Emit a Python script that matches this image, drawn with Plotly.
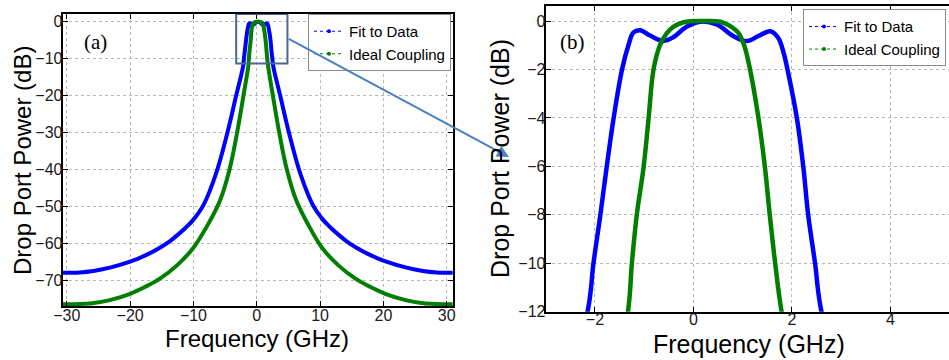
import plotly.graph_objects as go

# Drop-port transmission (dB) versus detuning (GHz)
freq_fit = [-31.0, -28.0, -25.8, -23.2, -20.0, -17.6, -15.3, -13.7, -12.4, -11.1,
            -10.0, -8.4, -6.5, -4.7, -3.25, -2.15, -2.03, -1.89, -1.76, -1.62,
            -1.45, -1.32, -1.22, -1.08, -0.88, -0.61, -0.41, -0.14, 0.14, 0.47,
            0.81, 1.08, 1.32, 1.56, 1.72, 1.83, 1.91, 2.10, 2.23, 2.33,
            2.47, 2.60, 3.7, 5.15, 6.95, 8.85, 10.45, 11.55, 12.85, 14.15,
            15.75, 18.05, 20.45, 23.65, 26.25, 28.45, 31.0]
db_fit = [-68.0, -67.9, -67.5, -66.6, -65.0, -63.3, -61.2, -59.4, -57.6, -55.6,
          -53.6, -49.6, -41.5, -30.5, -20.0, -12.0, -10.0, -8.0, -6.0, -4.0,
          -2.0, -1.0, -0.48, -0.38, -0.6, -0.82, -0.67, -0.24, -0.03, -0.14,
          -0.62, -0.83, -0.62, -0.42, -0.69, -1.3, -2.0, -4.0, -6.0, -8.0,
          -10.0, -12.0, -20.0, -30.5, -41.5, -49.6, -53.6, -55.6, -57.6, -59.4,
          -61.2, -63.3, -65.0, -66.6, -67.5, -67.9, -68.0]

freq_ideal = [-31.0, -26.3, -23.2, -20.0, -17.6, -15.3, -12.6, -10.0, -7.9, -5.8,
              -4.3, -3.1, -2.1, -1.33, -1.25, -1.15, -1.01, -0.91, -0.81, -0.68,
              -0.54, -0.41, -0.2, 0.2, 0.55, 0.74, 0.91, 1.03, 1.15, 1.32,
              1.45, 1.55, 1.66, 1.79, 2.55, 3.55, 4.75, 6.25, 8.3, 10.3,
              12.9, 15.6, 17.9, 20.3, 23.5, 26.6, 31.0]
db_ideal = [-76.5, -76.3, -75.4, -73.7, -71.8, -69.6, -66.0, -61.2, -55.5, -48.4,
            -40.0, -30.0, -20.0, -12.0, -10.0, -8.0, -6.0, -4.0, -2.0, -1.0,
            -0.5, -0.24, -0.05, 0.0, -0.03, -0.2, -0.48, -1.0, -2.0, -4.0,
            -6.0, -8.0, -10.0, -12.0, -20.0, -30.0, -40.0, -48.4, -55.5, -61.2,
            -66.0, -69.6, -71.8, -73.7, -75.4, -76.3, -76.5]

series_names = ["Fit to Data", "Ideal Coupling"]
series_colors = ["#0000ff", "#007f00"]

# zoom window shown in panel (b)
zoom_x = [-3.25, 4.85]
zoom_y = [-11.3, 2.1]

W, H = 949, 360
FONT = "Liberation Sans, Arial, sans-serif"

fig = go.Figure()

for xa, ya, lw in [("x", "y", 4), ("x2", "y2", 4.5)]:
    for f, d, c in [(freq_fit, db_fit, series_colors[0]),
                    (freq_ideal, db_ideal, series_colors[1])]:
        fig.add_trace(go.Scatter(
            x=f, y=d, xaxis=xa, yaxis=ya, mode="lines",
            line=dict(color=c, width=lw, shape="spline", smoothing=1.0),
            showlegend=False, hoverinfo="skip"))

# legend entries (dotted line with a dot marker)
for leg in ["legend", "legend2"]:
    for name, c in zip(series_names, series_colors):
        fig.add_trace(go.Scatter(
            x=[None], y=[None], mode="lines+markers", name=name, legend=leg,
            line=dict(color=c, width=1, dash="dot"),
            marker=dict(color=c, size=4)))

axis_common = dict(
    showline=True, linecolor="black", linewidth=2,
    ticks="inside", ticklen=5, tickcolor="black", tickwidth=1,
    showgrid=True, gridcolor="#b8b8b8", griddash="dot", gridwidth=1,
    zeroline=False, tickfont=dict(family=FONT, size=16, color="#1a1a1a"),
)

legend_common = dict(bgcolor="white", bordercolor="#8c8c8c", borderwidth=1,
                     font=dict(family=FONT, size=15, color="black"),
                     itemwidth=30, tracegroupgap=0)

fig.update_layout(
    width=W, height=H,
    margin=dict(l=0, r=0, t=0, b=0, autoexpand=False),
    paper_bgcolor="white", plot_bgcolor="white",
    xaxis=dict(domain=[62.7 / W, 452.7 / W], range=[-30.65, 30.95],
               tickvals=[-30, -20, -10, 0, 10, 20, 30], mirror="ticks",
               ticklabelstandoff=-6, anchor="y", **axis_common),
    yaxis=dict(domain=[1 - 306 / H, 1 - 14 / H], range=[-77, 2.1],
               tickvals=[0, -10, -20, -30, -40, -50, -60, -70], mirror="ticks",
               ticklabelstandoff=-5, anchor="x", **axis_common),
    xaxis2=dict(domain=[545.7 / W, 1.0], range=[-3.0, 5.19],
                tickvals=[-2, 0, 2, 4], mirror="ticks",
                ticklabelstandoff=-8, anchor="y2", **axis_common),
    yaxis2=dict(domain=[1 - 311.7 / H, 1 - 6 / H], range=[-12, 0.62],
                tickvals=[0, -2, -4, -6, -8, -10, -12], mirror=False,
                ticklabelstandoff=-5, anchor="x2", **axis_common),
    legend=dict(x=451 / W, xanchor="right", y=1 - 14 / H, yanchor="top",
                **legend_common),
    legend2=dict(x=803 / W, xanchor="left", y=1 - 9.3 / H, yanchor="top",
                 **legend_common),
)

# zoom window rectangle on panel (a)
fig.add_shape(type="rect", xref="x", yref="y",
              x0=zoom_x[0], x1=zoom_x[1], y0=zoom_y[0], y1=zoom_y[1],
              line=dict(color="#47698f", width=2))

# arrow from the zoom window to panel (b)
fig.add_annotation(xref="paper", yref="paper", x=509 / W, y=1 - 157 / H,
                   ax=287.3 - 509, ay=38 - 157, axref="pixel", ayref="pixel",
                   showarrow=True, arrowhead=2, arrowsize=1.2, arrowwidth=2,
                   arrowcolor="#4a7fc0", text="")

# panel labels
for label, px in [("(a)", 95), ("(b)", 572)]:
    fig.add_annotation(xref="paper", yref="paper", x=px / W, y=1 - 42 / H,
                       xanchor="center", yanchor="middle",
                       text=label, showarrow=False,
                       font=dict(family="Liberation Serif, Times New Roman, serif",
                                 size=21, color="black"))

# axis titles
for cx, cy, size in [(22, 161, 24), (500, 159, 25)]:
    fig.add_annotation(xref="paper", yref="paper", x=cx / W, y=1 - cy / H,
                       xanchor="center", yanchor="middle",
                       text="Drop Port Power (dB)", textangle=-90, showarrow=False,
                       font=dict(family=FONT, size=size, color="black"))
for cx, cy, size in [(256.5, 338, 24), (749, 344, 25)]:
    fig.add_annotation(xref="paper", yref="paper", x=cx / W, y=1 - cy / H,
                       xanchor="center", yanchor="middle",
                       text="Frequency (GHz)", showarrow=False,
                       font=dict(family=FONT, size=size, color="black"))

fig.write_html("out.html")
